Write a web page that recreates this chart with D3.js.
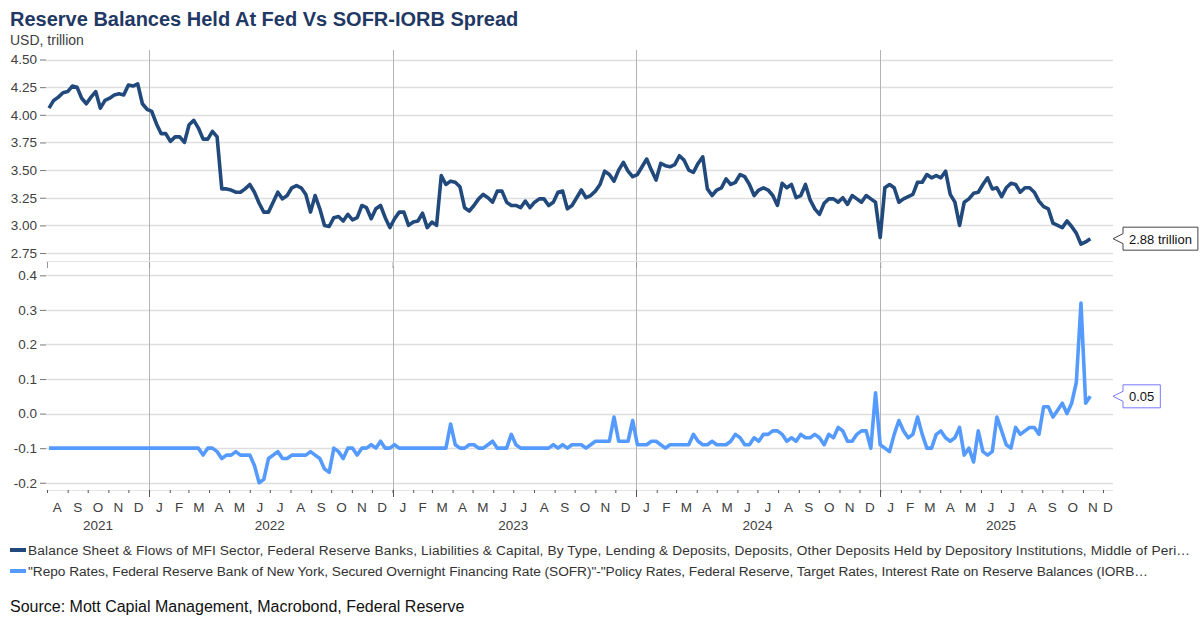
<!DOCTYPE html>
<html>
<head>
<meta charset="utf-8">
<script src="https://cdn.jsdelivr.net/npm/d3@7"></script>
<style>
body { margin: 0; background: #fff; }
text { font-family: "Liberation Sans", Arial, sans-serif; }
</style>
</head>
<body>
<svg id="chart" width="1200" height="627"></svg>
<script>
// weekly observations (Wednesdays) starting at firstWeek
var firstWeek = '2021-08-04';

// reserve balances held at the Fed, USD trillion
var reserves = [
	4.06, 4.13, 4.16, 4.20, 4.21, 4.26, 4.25, 4.15, 4.10, 4.16,
	4.21, 4.06, 4.13, 4.15, 4.18, 4.19, 4.18, 4.27, 4.26, 4.28,
	4.10, 4.05, 4.03, 3.92, 3.83, 3.83, 3.76, 3.80, 3.80, 3.75,
	3.91, 3.95, 3.88, 3.78, 3.78, 3.85, 3.80, 3.33, 3.33, 3.32,
	3.30, 3.30, 3.33, 3.37, 3.30, 3.20, 3.12, 3.12, 3.21, 3.30,
	3.24, 3.27, 3.34, 3.36, 3.34, 3.28, 3.12, 3.27, 3.15, 3.00,
	2.99, 3.07, 3.08, 3.04, 3.10, 3.05, 3.07, 3.18, 3.16, 3.06,
	3.15, 3.18, 3.07, 2.98, 3.06, 3.12, 3.12, 3.00, 3.03, 3.04,
	3.11, 2.98, 3.03, 3.00, 3.45, 3.37, 3.40, 3.39, 3.35, 3.16,
	3.13, 3.18, 3.24, 3.28, 3.25, 3.21, 3.31, 3.31, 3.21, 3.18,
	3.18, 3.16, 3.22, 3.16, 3.21, 3.24, 3.24, 3.18, 3.21, 3.30,
	3.31, 3.15, 3.18, 3.25, 3.32, 3.25, 3.27, 3.31, 3.37, 3.49,
	3.46, 3.40, 3.50, 3.57, 3.49, 3.44, 3.46, 3.53, 3.60, 3.50,
	3.41, 3.56, 3.54, 3.53, 3.55, 3.63, 3.59, 3.50, 3.48, 3.56,
	3.62, 3.33, 3.27, 3.32, 3.34, 3.42, 3.37, 3.39, 3.46, 3.44,
	3.37, 3.27, 3.32, 3.34, 3.32, 3.27, 3.18, 3.38, 3.34, 3.37,
	3.25, 3.27, 3.37, 3.23, 3.15, 3.10, 3.20, 3.24, 3.24, 3.21,
	3.25, 3.19, 3.27, 3.24, 3.21, 3.27, 3.24, 3.21, 2.89, 3.34,
	3.37, 3.34, 3.21, 3.24, 3.26, 3.28, 3.39, 3.39, 3.46, 3.43,
	3.45, 3.43, 3.49, 3.28, 3.21, 3.00, 3.21, 3.24, 3.29, 3.30,
	3.37, 3.43, 3.33, 3.34, 3.26, 3.34, 3.38, 3.37, 3.30, 3.34,
	3.34, 3.30, 3.22, 3.17, 3.15, 3.02, 3.00, 2.98, 3.04, 2.99,
	2.93, 2.83, 2.85, 2.88
];

// SOFR minus IORB, percentage points
var spread = [
	-0.10, -0.10, -0.10, -0.10, -0.10, -0.10, -0.10, -0.10, -0.10, -0.10,
	-0.10, -0.10, -0.10, -0.10, -0.10, -0.10, -0.10, -0.10, -0.10, -0.10,
	-0.10, -0.10, -0.10, -0.10, -0.10, -0.10, -0.10, -0.10, -0.10, -0.10,
	-0.10, -0.10, -0.10, -0.12, -0.10, -0.10, -0.11, -0.13, -0.12, -0.12,
	-0.11, -0.12, -0.12, -0.12, -0.15, -0.20, -0.19, -0.13, -0.12, -0.11,
	-0.13, -0.13, -0.12, -0.12, -0.12, -0.12, -0.11, -0.12, -0.13, -0.16,
	-0.17, -0.10, -0.11, -0.13, -0.10, -0.10, -0.12, -0.10, -0.10, -0.09,
	-0.10, -0.08, -0.10, -0.10, -0.09, -0.10, -0.10, -0.10, -0.10, -0.10,
	-0.10, -0.10, -0.10, -0.10, -0.10, -0.10, -0.03, -0.09, -0.10, -0.10,
	-0.09, -0.09, -0.10, -0.10, -0.09, -0.08, -0.10, -0.10, -0.10, -0.06,
	-0.09, -0.10, -0.10, -0.10, -0.10, -0.10, -0.10, -0.10, -0.09, -0.10,
	-0.09, -0.10, -0.09, -0.09, -0.09, -0.10, -0.09, -0.08, -0.08, -0.08,
	-0.08, -0.01, -0.08, -0.08, -0.08, -0.02, -0.09, -0.09, -0.09, -0.08,
	-0.08, -0.09, -0.10, -0.09, -0.09, -0.09, -0.09, -0.09, -0.06, -0.08,
	-0.09, -0.09, -0.08, -0.09, -0.09, -0.09, -0.08, -0.06, -0.07, -0.09,
	-0.09, -0.07, -0.08, -0.06, -0.06, -0.05, -0.05, -0.06, -0.08, -0.07,
	-0.08, -0.06, -0.07, -0.07, -0.06, -0.07, -0.09, -0.06, -0.07, -0.04,
	-0.05, -0.08, -0.08, -0.06, -0.05, -0.05, -0.10, 0.06, -0.09, -0.10,
	-0.11, -0.06, -0.02, -0.05, -0.07, -0.06, -0.01, -0.06, -0.10, -0.10,
	-0.06, -0.05, -0.07, -0.08, -0.07, -0.04, -0.12, -0.10, -0.14, -0.05,
	-0.11, -0.12, -0.11, -0.01, -0.05, -0.09, -0.10, -0.04, -0.06, -0.05,
	-0.04, -0.04, -0.06, 0.02, 0.02, -0.01, 0.01, 0.03, 0.00, 0.03,
	0.09, 0.32, 0.03, 0.05
];

var reserveTicks = [2.75, 3.00, 3.25, 3.50, 3.75, 4.00, 4.25, 4.50];
var spreadTicks = [-0.2, -0.1, 0.0, 0.1, 0.2, 0.3, 0.4];
var monthLetters = ['J', 'F', 'M', 'A', 'M', 'J', 'J', 'A', 'S', 'O', 'N', 'D'];

var titleText = 'Reserve Balances Held At Fed Vs SOFR-IORB Spread';
var unitText = 'USD, trillion';
var sourceText = 'Source: Mott Capial Management, Macrobond, Federal Reserve';
var legendNames = [
	'Balance Sheet & Flows of MFI Sector, Federal Reserve Banks, Liabilities & Capital, By Type, Lending & Deposits, Deposits, Other Deposits Held by Depository Institutions, Middle of Peri\u2026',
	'"Repo Rates, Federal Reserve Bank of New York, Secured Overnight Financing Rate (SOFR)"-"Policy Rates, Federal Reserve, Target Rates, Interest Rate on Reserve Balances (IORB\u2026'
];
var legendWidths = [1162, 1120];
var seriesColors = ['#21497c', '#559bff'];
var calloutText = ['2.88 trillion', '0.05'];
var calloutBorder = ['#444', '#7878ff'];

var svg = d3.select('#chart');
var left = 47, right = 1113;
var topPanel = { y0: 50, y1: 261 }, botPanel = { y0: 266, y1: 490 };
var axisColor = '#404040';

var start = d3.timeParse('%Y-%m-%d')(firstWeek);
var dates = reserves.map(function(d, i) { return d3.timeDay.offset(start, 7 * i); });

var domStart = new Date(2021, 7, 1), domEnd = new Date(2025, 11, 16);
var x = d3.scaleTime().domain([domStart, domEnd]).range([left, right]);
var yTop = d3.scaleLinear().domain([2.678, 4.586]).range([topPanel.y1, topPanel.y0]);
var yBot = d3.scaleLinear().domain([-0.221, 0.427]).range([botPanel.y1, botPanel.y0]);

// title + unit
svg.append('text').attr('x', 10).attr('y', 26).text(titleText)
	.style('font-size', '20px').style('font-weight', 'bold').style('fill', '#1f3864');
svg.append('text').attr('x', 10).attr('y', 45).text(unitText)
	.style('font-size', '14px').style('fill', axisColor);

var yearStarts = d3.timeYear.range(d3.timeYear.ceil(domStart), domEnd);

function drawPanel(panel, y, ticks, fmt) {
	var g = svg.append('g');
	// horizontal grid
	g.selectAll('line.grid').data(ticks).enter().append('line')
		.attr('x1', left - 1).attr('x2', right)
		.attr('y1', function(d) { return Math.round(y(d)) + 0.5; })
		.attr('y2', function(d) { return Math.round(y(d)) + 0.5; })
		.style('stroke', '#dedede').style('stroke-width', 1.3);
	// year separators
	g.selectAll('line.year').data(yearStarts).enter().append('line')
		.attr('x1', function(d) { return Math.round(x(d)) + 0.5; })
		.attr('x2', function(d) { return Math.round(x(d)) + 0.5; })
		.attr('y1', panel.y0).attr('y2', panel.y1)
		.style('stroke', '#b4b4b4');
	// y axis
	var ax = svg.append('g').attr('transform', 'translate(' + (left - 1) + ',0)')
		.call(d3.axisLeft(y).tickValues(ticks).tickSize(6).tickPadding(3).tickFormat(fmt));
	ax.select('.domain').remove();
	ax.selectAll('.tick line').style('stroke', '#777');
	ax.selectAll('.tick text').style('font-size', '13.5px').style('fill', axisColor)
		.style('font-family', '"Liberation Sans", Arial, sans-serif');
	// bottom frame
	g.append('line').attr('x1', left - 1).attr('x2', right)
		.attr('y1', panel.y1 + 0.5).attr('y2', panel.y1 + 0.5).style('stroke', '#e4e4e4');
}

drawPanel(topPanel, yTop, reserveTicks, function(d) { return d.toFixed(2); });
drawPanel(botPanel, yBot, spreadTicks, function(d) { return d.toFixed(1); });

// small year ticks under top panel
svg.append('g').attr('transform', 'translate(0,' + (topPanel.y1 + 1) + ')')
	.call(d3.axisBottom(x).tickValues([domStart].concat(yearStarts)).tickSize(6).tickFormat(''))
	.call(function(s) { s.select('.domain').remove(); s.selectAll('line').style('stroke', '#999'); });

// monthly ticks on bottom axis
var months = d3.timeMonth.range(domStart, domEnd);
var xb = svg.append('g').attr('transform', 'translate(0,' + botPanel.y1 + ')');
xb.call(d3.axisBottom(x).tickValues(months).tickSize(3).tickFormat(''))
	.call(function(s) { s.select('.domain').remove(); s.selectAll('line').style('stroke', '#555'); });
xb.selectAll('line.major').data(yearStarts).enter().append('line')
	.attr('x1', function(d) { return Math.round(x(d)) + 0.5; })
	.attr('x2', function(d) { return Math.round(x(d)) + 0.5; })
	.attr('y1', 0).attr('y2', 7).style('stroke', '#555');

// month letters and year labels
svg.append('g').selectAll('text').data(months).enter().append('text')
	.attr('x', function(d) { return (x(d) + x(d3.min([d3.timeMonth.offset(d, 1), domEnd]))) / 2; })
	.attr('y', 512).attr('text-anchor', 'middle')
	.text(function(d) { return monthLetters[d.getMonth()]; })
	.style('font-size', '13.5px').style('fill', axisColor);

var yearList = [domStart].concat(yearStarts);
svg.append('g').selectAll('text').data(yearList).enter().append('text')
	.attr('x', function(d) {
		var a = d3.max([d, domStart]), b = d3.timeYear.offset(d3.timeYear.floor(d), 1);
		if (d3.timeYear.floor(d) < domStart) return (x(a) + x(b)) / 2;
		return x(d3.timeMonth.offset(d3.timeYear.floor(d), 6));
	})
	.attr('y', 530).attr('text-anchor', 'middle')
	.text(function(d) { return d.getFullYear(); })
	.style('font-size', '13.5px').style('fill', axisColor);

// series lines
var series = [
	{ vals: reserves, y: yTop },
	{ vals: spread, y: yBot }
];
series.forEach(function(s, k) {
	var line = d3.line()
		.x(function(d, i) { return x(dates[i]); })
		.y(function(d) { return s.y(d); });
	svg.append('path').datum(s.vals).attr('d', line)
		.style('fill', 'none').style('stroke', seriesColors[k])
		.style('stroke-width', 3.6).style('stroke-linejoin', 'round');

	// last value callout
	var cy = s.y(s.vals[s.vals.length - 1]);
	var bx = right + 10, h = 23;
	var g = svg.append('g');
	var t = g.append('text').attr('x', bx + 6).attr('y', cy + 5).text(calloutText[k])
		.style('font-size', '13px').style('fill', '#111');
	var w = t.node().getComputedTextLength() + 12;
	g.insert('path', 'text')
		.attr('d', 'M' + bx + ',' + (cy - h / 2) + 'H' + (bx + w) + 'V' + (cy + h / 2) + 'H' + bx +
			'V' + (cy + 5) + 'L' + right + ',' + cy + 'L' + bx + ',' + (cy - 5) + 'Z')
		.style('fill', '#fff').style('stroke', calloutBorder[k]).style('stroke-width', 1);
});

// legend
var lg = svg.append('g');
legendNames.forEach(function(name, i) {
	var ly = 550 + i * 21;
	lg.append('line').attr('x1', 10).attr('x2', 26).attr('y1', ly).attr('y2', ly)
		.style('stroke', seriesColors[i]).style('stroke-width', 4);
	lg.append('text').attr('x', 28).attr('y', ly + 5).text(name)
		.attr('textLength', legendWidths[i]).attr('lengthAdjust', 'spacing')
		.style('font-size', '13.7px').style('fill', '#333');
});

svg.append('text').attr('x', 10).attr('y', 612).text(sourceText)
	.style('font-size', '16px').style('fill', '#111');
</script>
</body>
</html>
